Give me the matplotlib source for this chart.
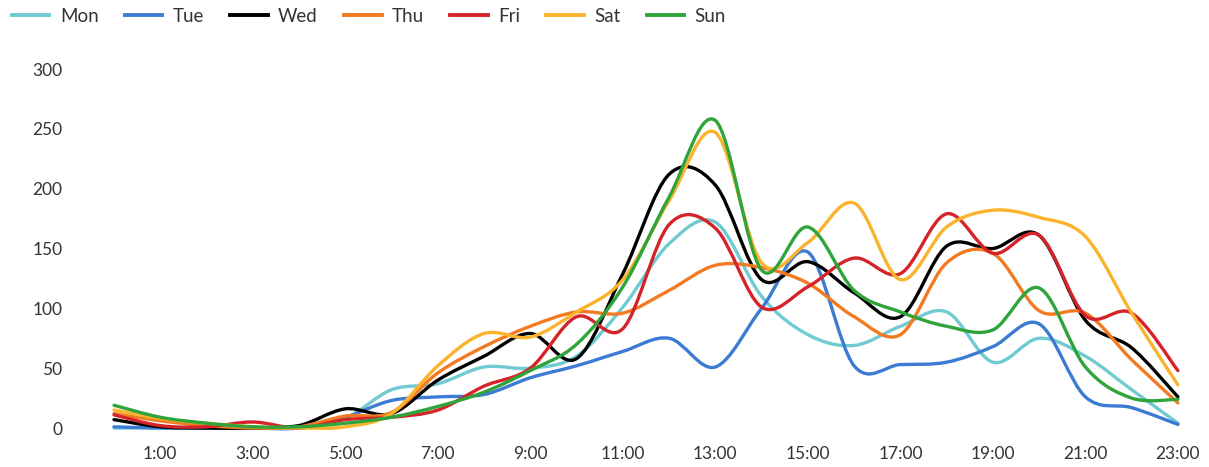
import matplotlib
matplotlib.use("Agg")
import matplotlib.pyplot as plt
import numpy as np
from matplotlib.path import Path
from matplotlib.patches import PathPatch
from matplotlib.lines import Line2D

plt.rcParams['font.family'] = ['Lato', 'DejaVu Sans']

hours = list(range(24))
tick_hours = list(range(1, 24, 2))
tick_labels = ['%d:00' % h for h in tick_hours]
y_ticks = [0, 50, 100, 150, 200, 250, 300]

days = ['Mon', 'Tue', 'Wed', 'Thu', 'Fri', 'Sat', 'Sun']
colors = ['#6fcbd1', '#3c7bd3', '#000000', '#f47a22', '#d4242a', '#fcb32c', '#2fa43a']

mon = [0, 0, 0, 0, 2, 8, 32, 37, 51, 50, 60, 101, 154, 172, 110, 78, 69, 85, 97, 55, 75, 60, 32, 4]
tue = [1, 0, 0, 0, 0, 9, 23, 26, 28, 42, 52, 64, 75, 51, 100, 147, 52, 53, 55, 68, 87, 26, 17, 3]
wed = [7, 1, 0, 0, 2, 16, 12, 40, 60, 79, 58, 129, 212, 203, 124, 139, 113, 93, 152, 150, 161, 90, 67, 26]
thu = [12, 6, 2, 0, 1, 10, 13, 46, 68, 85, 97, 96, 115, 136, 134, 121, 93, 78, 138, 146, 98, 96, 57, 21]
fri = [11, 2, 1, 5, 0, 7, 9, 15, 35, 50, 93, 83, 170, 167, 101, 118, 142, 129, 179, 146, 161, 94, 96, 48]
sat = [15, 8, 4, 1, 0, 1, 12, 52, 79, 76, 97, 124, 190, 247, 138, 155, 188, 124, 168, 182, 176, 160, 96, 36]
sun = [19, 9, 4, 1, 1, 4, 9, 18, 30, 48, 70, 118, 193, 257, 132, 168, 115, 97, 85, 82, 117, 51, 25, 24]
series = [mon, tue, wed, thu, fri, sat, sun]


def smooth_path(xs, ys):
    # catmull-rom through the points, drawn as cubic beziers
    p = np.column_stack([xs, ys]).astype(float)
    p = np.vstack([p[0], p, p[-1]])
    verts = [p[1]]
    codes = [Path.MOVETO]
    for i in range(1, len(p) - 2):
        c1 = p[i] + (p[i + 1] - p[i - 1]) / 6.0
        c2 = p[i + 1] - (p[i + 2] - p[i]) / 6.0
        verts += [c1, c2, p[i + 1]]
        codes += [Path.CURVE4] * 3
    return Path(verts, codes)


fig = plt.figure(figsize=(12.09, 4.67), dpi=100)
ax = fig.add_axes([0.0943, 0.0835, 0.880, 0.7687])

for vals, col in zip(series, colors):
    patch = PathPatch(smooth_path(hours, vals), facecolor='none', edgecolor=col,
                      lw=2.4, capstyle='round', joinstyle='round', clip_on=False)
    ax.add_patch(patch)

ax.set_xlim(0, 23)
ax.set_ylim(0, 300)
ax.set_xticks(tick_hours)
ax.set_xticklabels(tick_labels)
ax.set_yticks(y_ticks)
ax.tick_params(axis='both', length=0, labelsize=12.5, colors='#333333')
ax.tick_params(axis='y', pad=37)
ax.tick_params(axis='x', pad=13)
for s in ax.spines.values():
    s.set_visible(False)

handles = [Line2D([], [], color=c, lw=2.8) for c in colors]
leg = fig.legend(handles, days, loc='center left', bbox_to_anchor=(0.0099, 0.965), ncol=7,
                 frameon=False, fontsize=13.5, handlelength=2.0, handletextpad=0.55,
                 columnspacing=1.4, borderaxespad=0, borderpad=0)
for t in leg.get_texts():
    t.set_color('#333333')

fig.savefig('out.png', dpi=100)
